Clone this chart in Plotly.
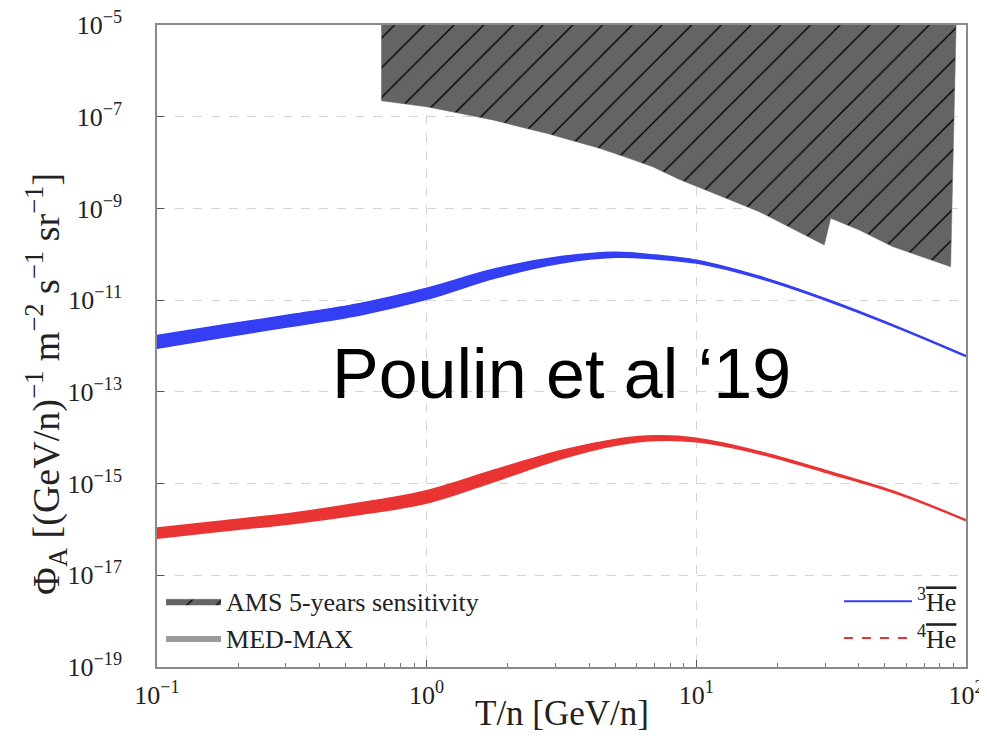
import plotly.graph_objects as go

# ---------------- data ----------------
T_grid = [0.1, 0.178, 0.316, 0.562, 1.0, 1.78, 3.16, 5.01, 7.08, 10.0, 17.8, 31.6, 56.2, 100.0]

he3_max = [1.70e-12, 2.90e-12, 4.85e-12, 8.4e-12, 1.82e-11, 4.78e-11, 8.9e-11, 1.11e-10,
           9.6e-11, 7.45e-11, 3.1e-11, 9.7e-12, 2.58e-12, 6.2e-13]
he3_min = [8.9e-13, 1.57e-12, 2.70e-12, 4.70e-12, 1.04e-11, 3.0e-11, 6.45e-11, 8.6e-11,
           7.9e-11, 6.42e-11, 2.8e-11, 9.0e-12, 2.44e-12, 5.87e-13]

he4_max = [1.07e-16, 1.55e-16, 2.26e-16, 3.76e-16, 7.0e-16, 1.97e-15, 5.25e-15, 9.2e-15,
           1.10e-14, 9.77e-15, 4.73e-15, 1.78e-15, 6.24e-16, 1.62e-16]
he4_min = [6.46e-17, 9.33e-17, 1.33e-16, 2.11e-16, 3.76e-16, 1.11e-15, 3.47e-15, 6.84e-15,
           8.7e-15, 8.13e-15, 4.22e-15, 1.62e-15, 5.82e-16, 1.55e-16]

ams_T = [0.68, 1.0, 1.325, 1.76, 2.21, 2.78, 3.48, 4.37, 5.49, 6.89, 8.65, 9.7, 12.9,
         17.1, 22.7, 29.8, 31.5, 40.2, 53.4, 87.7]
ams_flux = [2.23e-7, 1.65e-7, 1.19e-7, 8.5e-8, 6.06e-8, 4.35e-8, 3.0e-8, 2.05e-8, 1.30e-8,
            8.1e-9, 4.3e-9, 3.24e-9, 1.66e-9, 8.5e-10, 3.69e-10, 1.6e-10, 6.1e-10, 3.39e-10,
            1.47e-10, 5.37e-11]
ams_T_right_top = 91.9
ams_top = 1e-5

x_tickvals = [0.1, 1, 10, 100]
x_ticktext = ["10<sup>\u22121</sup>", "10<sup>0</sup>", "10<sup>1</sup>", "10<sup>2</sup>"]
y_tickvals = [1e-19, 1e-17, 1e-15, 1e-13, 1e-11, 1e-9, 1e-7, 1e-5]
y_ticktext = ["10<sup>\u221219</sup>", "10<sup>\u221217</sup>", "10<sup>\u221215</sup>",
              "10<sup>\u221213</sup>", "10<sup>\u221211</sup>", "10<sup>\u22129</sup>",
              "10<sup>\u22127</sup>", "10<sup>\u22125</sup>"]

BLUE = "rgb(52,62,242)"
RED = "rgb(234,52,52)"
AMS_GRAY = "rgb(100,100,100)"
SERIF = "Liberation Serif"

fig = go.Figure()

# AMS sensitivity region (hatched)
poly_x = [ams_T[0]] + ams_T + [ams_T_right_top, ams_T[0]]
poly_y = [ams_top] + ams_flux + [ams_top, ams_top]
fig.add_trace(go.Scatter(
    x=poly_x, y=poly_y, mode="lines", fill="toself",
    fillcolor=AMS_GRAY, line=dict(color=AMS_GRAY, width=0.5),
    fillpattern=dict(shape="/", fgcolor="black", bgcolor=AMS_GRAY, size=21,
                     solidity=0.065, fgopacity=1.0),
    name="AMS 5-years sensitivity", legend="legend", hoverinfo="skip"))

# MED-MAX legend entry
fig.add_trace(go.Scatter(
    x=[None], y=[None], mode="lines", fill="toself",
    fillcolor="rgb(155,155,155)", line=dict(color="rgb(155,155,155)", width=0),
    name="MED-MAX", legend="legend"))

# He-3 band
fig.add_trace(go.Scatter(x=T_grid, y=he3_min, mode="lines",
                         line=dict(color=BLUE, width=1.5, shape="spline"),
                         showlegend=False, hoverinfo="skip"))
fig.add_trace(go.Scatter(x=T_grid, y=he3_max, mode="lines", fill="tonexty",
                         fillcolor=BLUE, line=dict(color=BLUE, width=1.5, shape="spline"),
                         showlegend=False, hoverinfo="skip"))
# He-4 band
fig.add_trace(go.Scatter(x=T_grid, y=he4_min, mode="lines",
                         line=dict(color=RED, width=1.5, shape="spline"),
                         showlegend=False, hoverinfo="skip"))
fig.add_trace(go.Scatter(x=T_grid, y=he4_max, mode="lines", fill="tonexty",
                         fillcolor=RED, line=dict(color=RED, width=1.5, shape="spline"),
                         showlegend=False, hoverinfo="skip"))

# Line legend entries
fig.add_trace(go.Scatter(x=[None], y=[None], mode="lines",
                         line=dict(color=BLUE, width=2),
                         name="<sup>3</sup><span style='text-decoration:overline'>He</span>",
                         legend="legend2"))
fig.add_trace(go.Scatter(x=[None], y=[None], mode="lines",
                         line=dict(color=RED, width=2, dash="dash"),
                         name="<sup>4</sup><span style='text-decoration:overline'>He</span>",
                         legend="legend2"))

axis_common = dict(
    type="log", showline=True, linecolor="#8a8a8a", linewidth=1.5, mirror=True,
    ticks="inside", tickcolor="#555", ticklen=7, tickwidth=1,
    showgrid=True, gridcolor="#d4d4d4", gridwidth=1, griddash="dash",
    zeroline=False, automargin=False, ticklabeloverflow="allow",
    tickfont=dict(family=SERIF, size=26, color="#222"),
)

fig.update_xaxes(**axis_common, range=[-1, 2], tickmode="array",
                 tickvals=x_tickvals, ticktext=x_ticktext,
                 minor=dict(ticks="inside", ticklen=4, tickcolor="#777", showgrid=False,
                            tickmode="array",
                            tickvals=[m * d for d in (0.1, 1, 10) for m in range(2, 10)]),
                 ticklabelstandoff=4)
fig.update_yaxes(**axis_common, range=[-19, -5], tickmode="array",
                 tickvals=y_tickvals, ticktext=y_ticktext, ticklabelstandoff=28)

# The page body has an 8px default margin: compensate so the plot area lands
# at x=157..966, y=25..667 in the 987x743 window.
fig.update_layout(
    width=979, height=727,
    margin=dict(l=149, r=21, t=17, b=68, autoexpand=False),
    paper_bgcolor="white", plot_bgcolor="white",
    showlegend=True,
    legend=dict(x=0.005, y=0.008, xanchor="left", yanchor="bottom",
                font=dict(family=SERIF, size=26, color="#222"),
                bgcolor="rgba(0,0,0,0)", tracegroupgap=0, traceorder="normal",
                itemwidth=55),
    legend2=dict(x=0.995, y=0.008, xanchor="right", yanchor="bottom",
                 font=dict(family=SERIF, size=26, color="#222"),
                 bgcolor="rgba(0,0,0,0)", tracegroupgap=0, traceorder="normal",
                 itemwidth=68),
    annotations=[
        dict(text="T/n [GeV/n]", xref="paper", yref="paper", x=0.5, y=0,
             xanchor="center", yanchor="top", yshift=-25, showarrow=False,
             font=dict(family=SERIF, size=35, color="#222")),
        dict(text="\u03a6<sub>A</sub> [(GeV/n)<sup>\u22121</sup> m<sup>\u22122</sup> s<sup>\u22121</sup> sr<sup>\u22121</sup>]",
             xref="paper", yref="paper", x=0, y=0.441, xanchor="center", yanchor="middle",
             xshift=-111, textangle=-90, showarrow=False,
             font=dict(family=SERIF, size=38, color="#222")),
        dict(text="Poulin et al \u201819", xref="paper", yref="paper", x=0.5, y=0.456,
             xanchor="center", yanchor="middle", showarrow=False,
             font=dict(family="Liberation Sans", size=70, color="black")),
    ],
)

fig.write_html("out.html")
